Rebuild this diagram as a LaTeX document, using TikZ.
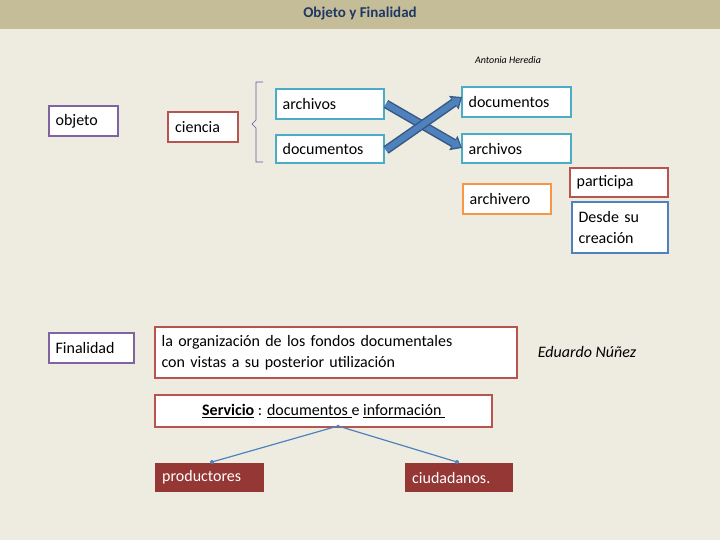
\documentclass[tikz,border=0pt]{standalone}
\usepackage{fontspec}
\setmainfont{Carlito}
\usetikzlibrary{arrows.meta,calc}
\definecolor{bg}{HTML}{EEECE1}
\definecolor{bar}{HTML}{C4BD97}
\definecolor{navy}{HTML}{1F3864}
\definecolor{purp}{HTML}{8064A2}
\definecolor{redb}{HTML}{B85450}
\definecolor{teal}{HTML}{4BACC6}
\definecolor{blu}{HTML}{4F81BD}
\definecolor{oran}{HTML}{F79646}
\definecolor{dred}{HTML}{953735}
\tikzset{
 bx/.style={draw=#1,line width=2.2pt,fill=white,anchor=north west,inner ysep=0pt,inner xsep=6pt,font=\fontsize{16}{21}\selectfont},
 fb/.style={fill=dred,anchor=north west,inner ysep=0pt,inner xsep=7pt,text=white,font=\fontsize{16}{19}\selectfont},
 bigarrow/.style={draw=blu!70!black,line width=9pt,-{Triangle[length=10pt,width=16pt]},shorten >=0pt},
 inarrow/.style={draw=blu,line width=6pt,-{Triangle[length=7.5pt,width=11pt]}},
 ln/.style={draw=blu,line width=1.2pt}
}
\begin{document}
\begin{tikzpicture}[x=1pt,y=-1pt]
\fill[bg] (0,0) rectangle (720,540);
\fill[bar] (0,0) rectangle (720,29);
\node[font=\bfseries\fontsize{15}{18}\selectfont,text=navy] (title) at (360,14) {Objeto y Finalidad};
\node[font=\itshape\fontsize{10}{12}\selectfont] (ah) at (508,60) {Antonia Heredia};
\node[bx=purp,minimum width=69pt,minimum height=30pt,text width=56pt,align=left] (obj) at (48,105) {objeto};
\node[bx=redb,minimum width=70pt,minimum height=30pt,text width=56pt,align=left] (cie) at (167,111) {ciencia};
\draw[gray!70!blue,line width=0.6pt] (263,82) -- (256,82) -- (256,120) -- (252,124) -- (256,128) -- (256,162) -- (263,162);
\node[bx=teal,minimum width=108pt,minimum height=30pt,text width=95pt,align=left] (a1) at (275,88) {archivos};
\node[bx=teal,minimum width=108pt,minimum height=28pt,text width=95pt,align=left] (d1) at (275,134) {documentos};
\node[bx=teal,minimum width=109pt,minimum height=30pt,text width=96pt,align=left] (d2) at (461,86) {documentos};
\node[bx=teal,minimum width=109pt,minimum height=29pt,text width=96pt,align=left] (a2) at (461,133) {archivos};
\coordinate (p1) at (386,104); \coordinate (q1) at (462,148);
\coordinate (p2) at (386,150); \coordinate (q2) at (462,97);
\draw[bigarrow] (p1) -- (q1); \draw[inarrow] (p1) -- ($(q1)+(-1.5,-1)$);
\draw[bigarrow] (p2) -- (q2); \draw[inarrow] (p2) -- ($(q2)+(-1.5,1)$);
\node[bx=oran,minimum width=88pt,minimum height=30pt,text width=75pt,align=left] (arv) at (462,183) {archivero};
\node[bx=redb,minimum width=98pt,minimum height=29pt,text width=85pt,align=left] (par) at (569,167) {participa};
\node[bx=blu,minimum width=96pt,minimum height=51pt,text width=83pt,align=left] (des) at (571,201) {Desde su\\creación};
\node[bx=purp,minimum width=85pt,minimum height=30pt,text width=72pt,align=left] (fin) at (48,332) {Finalidad};
\node[bx=redb,minimum width=362pt,minimum height=51pt,text width=349pt,align=left] (org) at (154,326) {la organización de los fondos documentales\\con vistas a su posterior utilización};
\node[font=\itshape\fontsize{16}{19}\selectfont] (ed) at (587,352) {Eduardo Núñez};
\node[bx=redb,minimum width=337pt,minimum height=32pt,align=center] (ser) at (154,394) {\textbf{\underline{Servicio}} : \underline{documentos }e \underline{información }};
\node[fb,minimum width=109pt,minimum height=29pt,text width=95pt,align=left] (pro) at (155,463) {productores};
\node[fb,minimum width=108pt,minimum height=29pt,text width=94pt,align=left] (ciu) at (405,463) {ciudadanos.};
\coordinate (sb) at (338,426);
\coordinate (pe) at (212,462); \coordinate (ce) at (457,462);
\draw[ln] (sb) -- (pe); \draw[ln] (sb) -- (ce);
\fill[blu] (pe) circle (2pt) (ce) circle (2pt) (sb) circle (1.5pt);
\end{tikzpicture}
\end{document}
